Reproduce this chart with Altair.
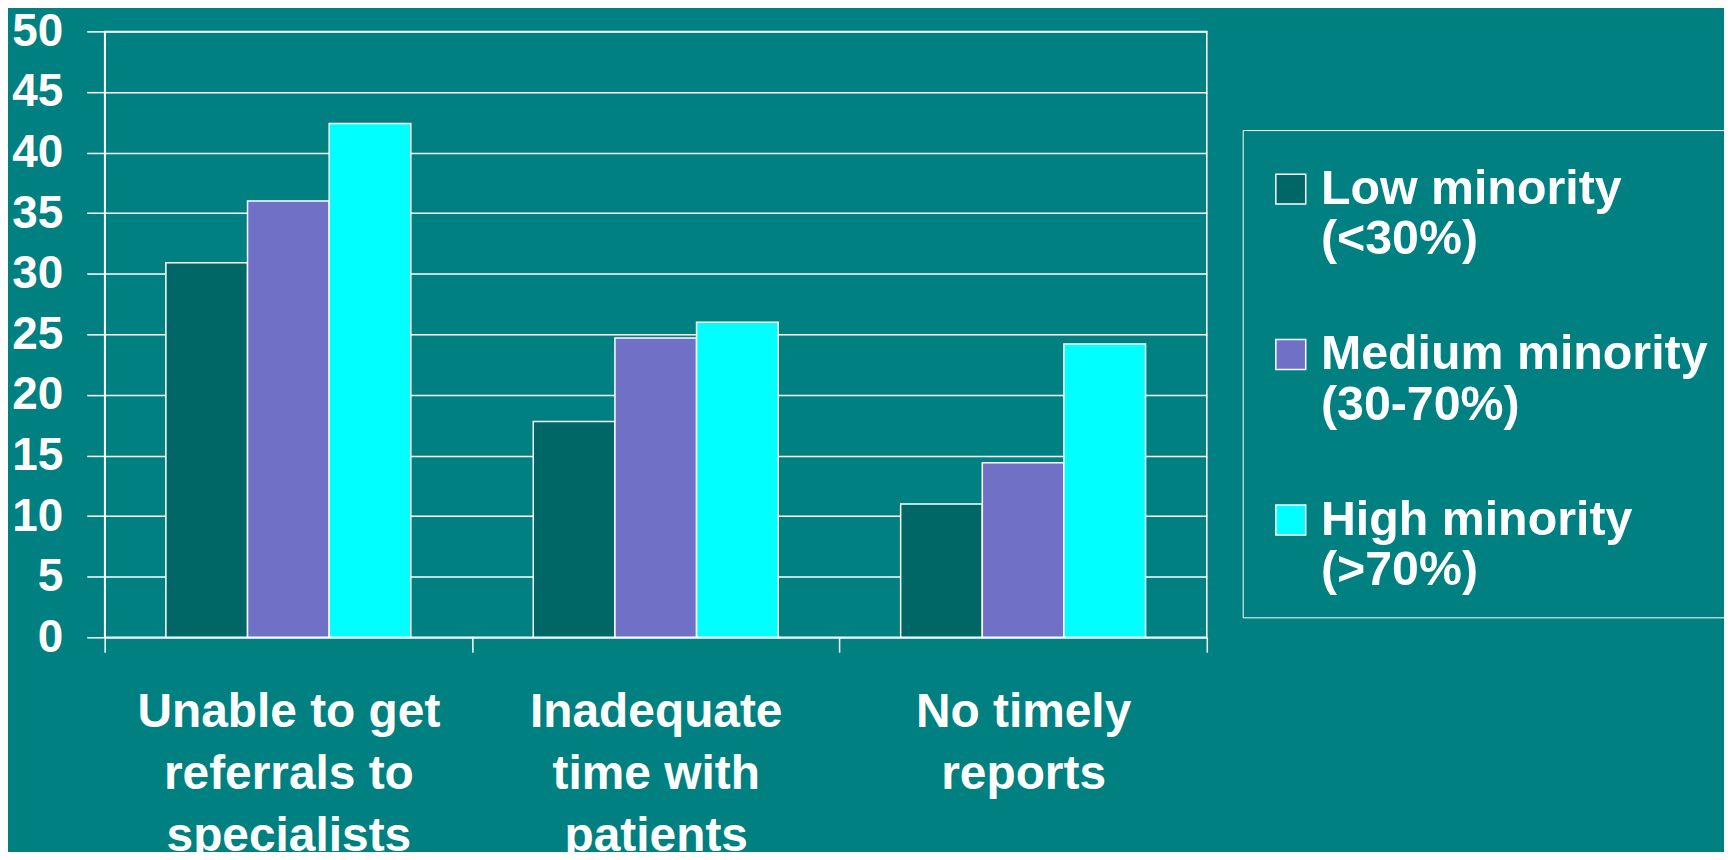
import altair as alt
import pandas as pd

categories = [
    "Unable to get\nreferrals to\nspecialists",
    "Inadequate\ntime with\npatients",
    "No timely\nreports",
]
groups = ["Low minority\n(<30%)", "Medium minority\n(30-70%)", "High minority\n(>70%)"]
low_minority = [30.9, 17.8, 11.0]
medium_minority = [36.0, 24.7, 14.4]
high_minority = [42.4, 26.0, 24.2]
group_colors = ["#006666", "#7070C6", "#00FFFF"]
y_tick_values = [0, 5, 10, 15, 20, 25, 30, 35, 40, 45, 50]

rows = []
for i, cat in enumerate(categories):
    for g, vals in zip(groups, [low_minority, medium_minority, high_minority]):
        rows.append({"category": cat, "group": g, "value": vals[i]})
df = pd.DataFrame(rows)

FONT = "Liberation Sans"
SPLIT = "split(datum.label, '\\n')"

chart = (
    alt.Chart(df)
    .mark_bar(stroke="white", strokeWidth=1.5)
    .encode(
        x=alt.X(
            "category:N",
            sort=categories,
            scale=alt.Scale(paddingInner=0, paddingOuter=0),
            axis=alt.Axis(
                title=None,
                labelAngle=0,
                labelExpr=SPLIT,
                labelFont=FONT,
                labelFontSize=48,
                labelFontWeight="bold",
                labelColor="white",
                labelLineHeight=62,
                labelBaseline="top",
                labelPadding=37,
                labelLimit=0,
                labelOverlap=False,
                tickSize=15,
                tickColor="white",
                tickWidth=1.5,
                tickBand="extent",
                domainColor="white",
                domainWidth=1.5,
                grid=False,
            ),
        ),
        xOffset=alt.XOffset(
            "group:N", sort=groups, scale=alt.Scale(paddingInner=0, paddingOuter=0.75)
        ),
        y=alt.Y(
            "value:Q",
            scale=alt.Scale(domain=[0, 50], nice=False),
            axis=alt.Axis(
                title=None,
                values=y_tick_values,
                labelFont=FONT,
                labelFontSize=46,
                labelFontWeight="bold",
                labelColor="white",
                labelPadding=24,
                tickSize=18,
                tickColor="white",
                tickWidth=1.5,
                domainColor="white",
                domainWidth=1.5,
                gridColor="white",
                gridWidth=1.5,
                gridOpacity=1,
            ),
        ),
        color=alt.Color(
            "group:N",
            sort=groups,
            scale=alt.Scale(domain=groups, range=group_colors),
            legend=alt.Legend(
                title=" ",
                titleFontSize=2,
                titlePadding=11,
                orient="none",
                legendX=1142,
                legendY=99,
                direction="vertical",
                symbolType="square",
                symbolSize=900,
                symbolStrokeColor="white",
                symbolStrokeWidth=1.5,
                symbolOpacity=1,
                symbolOffset=2,
                labelFont=FONT,
                labelFontSize=48.5,
                labelFontWeight="bold",
                labelColor="white",
                labelLimit=0,
                labelOffset=6,
                labelExpr=SPLIT,
                padding=22,
                rowPadding=66,
                strokeColor="white",
            ),
        ),
    )
    .properties(
        width=1106,
        height=608,
        padding={"left": 97, "top": 22, "right": 519, "bottom": 214},
        autosize=alt.AutoSizeParams(type="none"),
        background="#008080",
    )
    .configure_view(stroke="white", strokeWidth=1.5)
)

chart.save("out.html", embed_options={"renderer": "svg", "actions": False})
